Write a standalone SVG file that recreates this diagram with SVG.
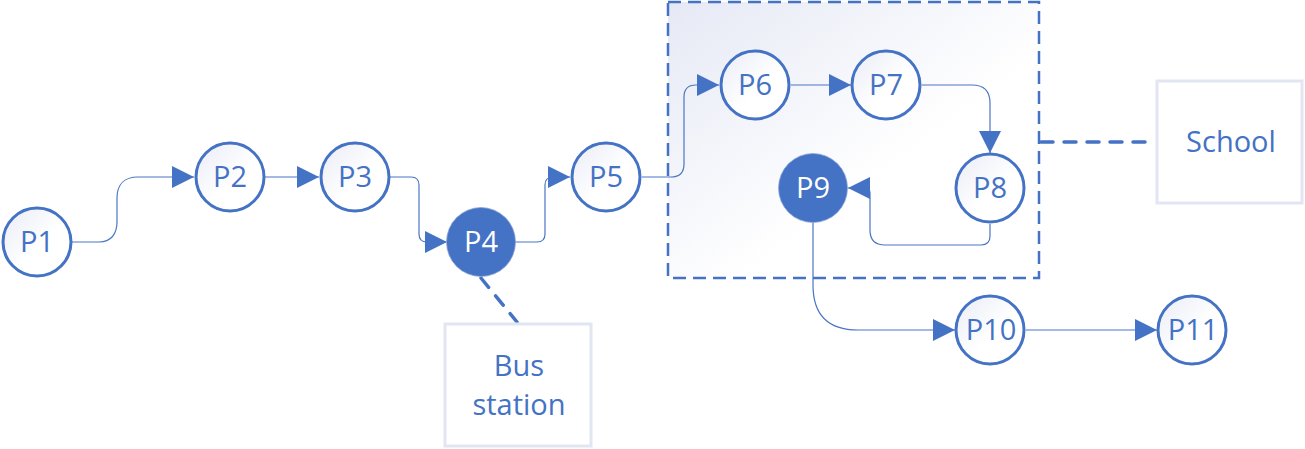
<svg xmlns="http://www.w3.org/2000/svg" width="1305" height="449" viewBox="0 0 1305 449">
<defs>
  <linearGradient id="boxGrad" x1="0" y1="0" x2="1" y2="1">
    <stop offset="0" stop-color="#e6e9f5"/>
    <stop offset="0.6" stop-color="#ffffff"/>
    <stop offset="1" stop-color="#ffffff"/>
  </linearGradient>
  <linearGradient id="nodeGrad" x1="0" y1="0" x2="1" y2="1">
    <stop offset="0" stop-color="#e9ecf6"/>
    <stop offset="0.55" stop-color="#ffffff"/>
    <stop offset="1" stop-color="#ffffff"/>
  </linearGradient>
  <marker id="arr" markerUnits="userSpaceOnUse" markerWidth="22" markerHeight="22" refX="22" refY="11" orient="auto" viewBox="0 0 22 22">
    <path d="M0,0 L22,11 L0,22 z" fill="#4472c4"/>
  </marker>
</defs>
<style>
  .node { fill: url(#nodeGrad); stroke: #4472c4; stroke-width: 3; }
  .nodeF { fill: #4472c4; stroke: #8ea6d8; stroke-width: 0.8; }
  .lbl { font-family: "Open Sans", "Noto Sans", sans-serif; font-size: 29px; fill: #4472c4; text-anchor: middle; }
  .lblW { font-family: "Open Sans", "Noto Sans", sans-serif; font-size: 29px; fill: #ffffff; text-anchor: middle; }
  .conn { fill: none; stroke: #4a76c6; stroke-width: 1.2; marker-end: url(#arr); }
  .dash { fill: none; stroke: #4472c4; stroke-width: 3.5; stroke-dasharray: 12 11; stroke-linecap: round; }
  .loc { fill: #ffffff; stroke: #e2e6f3; stroke-width: 3; }
</style>
<rect width="1305" height="449" fill="#ffffff"/>

<g id="school-area">
  <rect x="668" y="2" width="371" height="276" fill="url(#boxGrad)" stroke="#4472c4" stroke-width="2.5" stroke-dasharray="13 7"/>
</g>

<g id="connectors">
  <path class="conn" d="M72,242 H99 C111,242 117,234 117,222 V198 C117,185 124,177 138,177 H194"/>
  <path class="conn" d="M265,177 H319"/>
  <path class="conn" d="M390,177 H411 Q419,177 419,185 V234 Q419,242 427,242 H447"/>
  <path class="conn" d="M515,242 H537 Q545,242 545,234 V185 Q545,177 553,177 H570"/>
  <path class="conn" d="M642,177 H671 Q684,177 684,164 V97 Q684,85 696,85 H719"/>
  <path class="conn" d="M791,85 H851"/>
  <path class="conn" d="M922,85 H972 Q990,85 990,103 V153"/>
  <path class="conn" d="M990,224 V236 Q990,245 981,245 H885 Q870,245 870,230 V193 Q870,188 865,188 H848"/>
  <path class="conn" d="M813,223 V285 Q813,330 858,330 H955"/>
  <path class="conn" d="M1026,330 H1157"/>
  <path class="dash" d="M1041,142 H1151"/>
  <path class="dash" d="M481,278 L517,322"/>
</g>

<g id="P1"><circle class="node" cx="37" cy="242" r="34"/><text class="lbl" x="37" y="252">P1</text></g>
<g id="P2"><circle class="node" cx="230" cy="177" r="34"/><text class="lbl" x="230" y="187">P2</text></g>
<g id="P3"><circle class="node" cx="355" cy="177" r="34"/><text class="lbl" x="355" y="187">P3</text></g>
<g id="P4"><circle class="nodeF" cx="481" cy="242" r="34.5"/><text class="lblW" x="481" y="252">P4</text></g>
<g id="P5"><circle class="node" cx="606" cy="177" r="34"/><text class="lbl" x="606" y="187">P5</text></g>
<g id="P6"><circle class="node" cx="755" cy="85" r="34"/><text class="lbl" x="755" y="95">P6</text></g>
<g id="P7"><circle class="node" cx="886" cy="85" r="34"/><text class="lbl" x="886" y="95">P7</text></g>
<g id="P8"><circle class="node" cx="990" cy="188" r="34"/><text class="lbl" x="990" y="198">P8</text></g>
<g id="P9"><circle class="nodeF" cx="813" cy="188" r="34.5"/><text class="lblW" x="813" y="198">P9</text></g>
<g id="P10"><circle class="node" cx="990" cy="330" r="34"/><text class="lbl" x="991" y="340">P10</text></g>
<g id="P11"><circle class="node" cx="1192" cy="330" r="34"/><text class="lbl" x="1193" y="340">P11</text></g>

<g id="School"><rect class="loc" x="1157" y="81" width="145" height="122"/><text class="lbl" x="1231" y="152">School</text></g>
<g id="BusStation"><rect class="loc" x="445" y="324" width="146" height="122"/><text class="lbl" x="519" y="376">Bus</text><text class="lbl" x="519" y="415">station</text></g>
</svg>
